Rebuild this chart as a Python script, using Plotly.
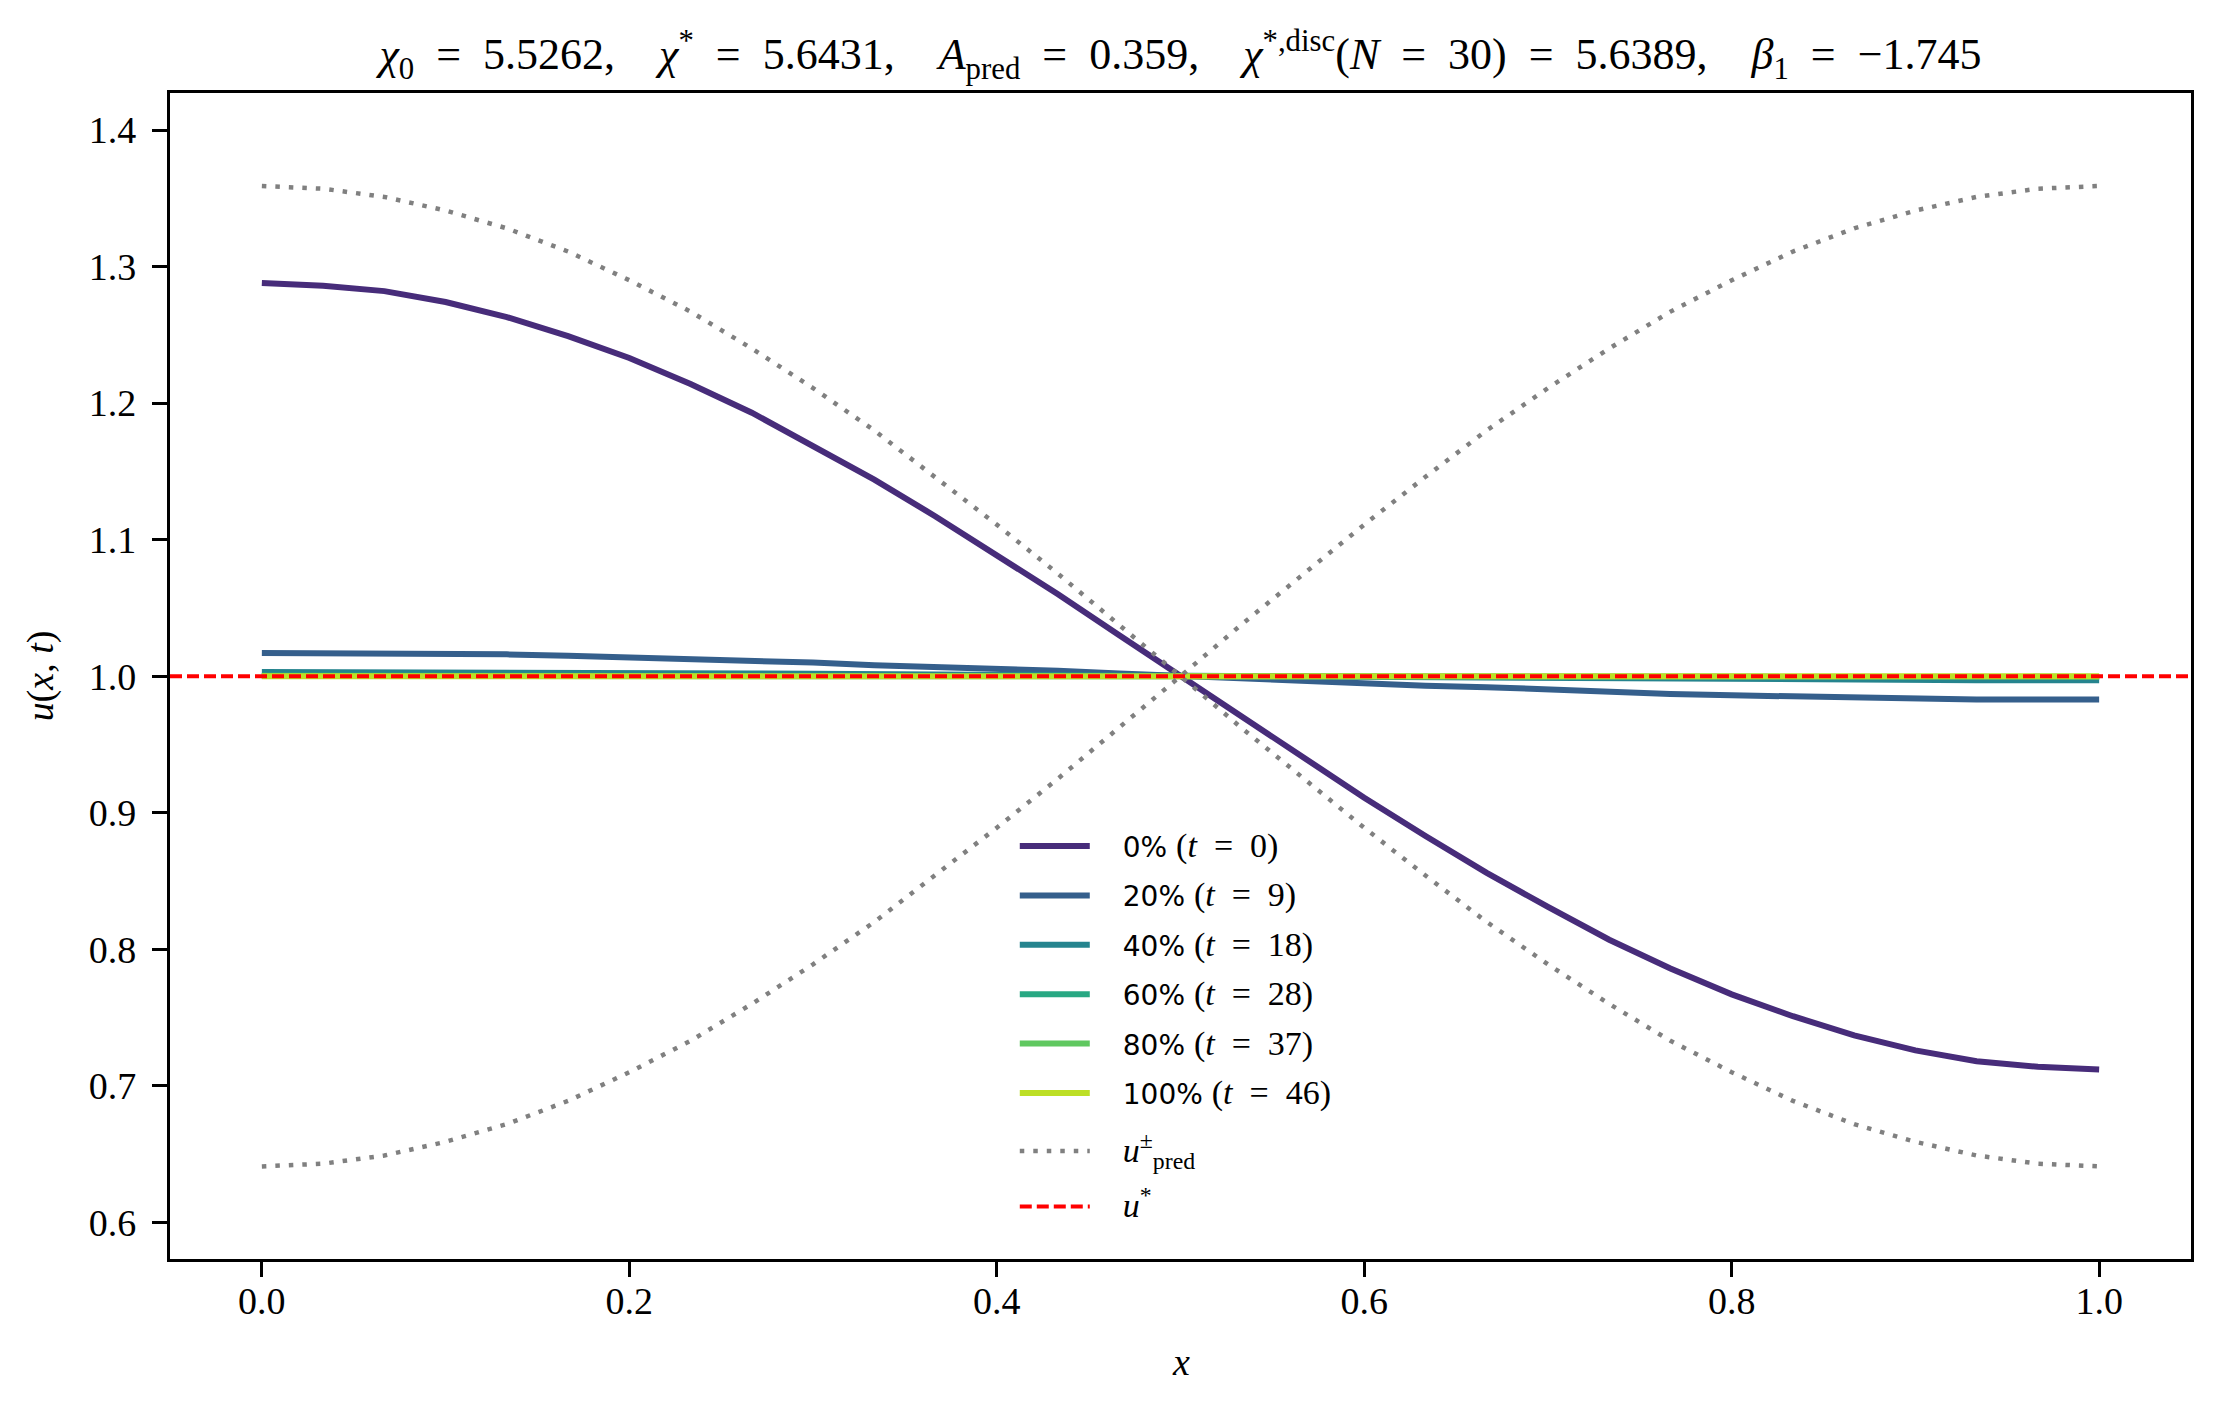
import plotly.graph_objects as go

# Grid: N = 30 intervals on [0, 1]
x = [i / 30 for i in range(31)]

# Snapshots of u(x, t)
u_t0 = [1.288, 1.286, 1.282, 1.274, 1.263, 1.249, 1.233, 1.214, 1.193, 1.169, 1.144,
        1.117, 1.089, 1.060, 1.030, 1.000, 0.970, 0.940, 0.911, 0.883, 0.856,
        0.831, 0.807, 0.786, 0.767, 0.751, 0.737, 0.726, 0.718, 0.714, 0.712]
u_t9 = [1.017, 1.017, 1.017, 1.016, 1.016, 1.015, 1.014, 1.013, 1.011, 1.010, 1.008,
        1.007, 1.005, 1.004, 1.002, 1.000, 0.998, 0.996, 0.995, 0.993, 0.992,
        0.990, 0.989, 0.987, 0.986, 0.985, 0.984, 0.984, 0.983, 0.983, 0.983]
u_t18 = [1.0030, 1.0030, 1.0029, 1.0029, 1.0027, 1.0026, 1.0024, 1.0022, 1.0020, 1.0018, 1.0015,
         1.0012, 1.0009, 1.0006, 1.0003, 1.0000, 0.9997, 0.9994, 0.9991, 0.9988, 0.9985,
         0.9982, 0.9980, 0.9978, 0.9976, 0.9974, 0.9973, 0.9971, 0.9971, 0.9970, 0.9970]
u_t28 = [1.0005, 1.0005, 1.0005, 1.0005, 1.0005, 1.0004, 1.0004, 1.0004, 1.0003, 1.0003, 1.0003,
         1.0002, 1.0002, 1.0001, 1.0001, 1.0000, 0.9999, 0.9999, 0.9998, 0.9998, 0.9997,
         0.9997, 0.9997, 0.9996, 0.9996, 0.9996, 0.9995, 0.9995, 0.9995, 0.9995, 0.9995]
u_t37 = [1.0001, 1.0001, 1.0001, 1.0001, 1.0001, 1.0001, 1.0001, 1.0001, 1.0001, 1.0001, 1.0000,
         1.0000, 1.0000, 1.0000, 1.0000, 1.0000, 1.0000, 1.0000, 1.0000, 1.0000, 1.0000,
         0.9999, 0.9999, 0.9999, 0.9999, 0.9999, 0.9999, 0.9999, 0.9999, 0.9999, 0.9999]
u_t46 = [1.0000, 1.0000, 1.0000, 1.0000, 1.0000, 1.0000, 1.0000, 1.0000, 1.0000, 1.0000, 1.0000,
         1.0000, 1.0000, 1.0000, 1.0000, 1.0000, 1.0000, 1.0000, 1.0000, 1.0000, 1.0000,
         1.0000, 1.0000, 1.0000, 1.0000, 1.0000, 1.0000, 1.0000, 1.0000, 1.0000, 1.0000]

# Predicted envelopes u_pred^+ / u_pred^-
u_pred_plus = [1.359, 1.357, 1.351, 1.341, 1.328, 1.311, 1.290, 1.267, 1.240, 1.211, 1.180,
               1.146, 1.111, 1.075, 1.038, 1.000, 0.962, 0.925, 0.889, 0.854, 0.820,
               0.789, 0.760, 0.733, 0.710, 0.689, 0.672, 0.659, 0.649, 0.643, 0.641]
u_pred_minus = [0.641, 0.643, 0.649, 0.659, 0.672, 0.689, 0.710, 0.733, 0.760, 0.789, 0.820,
                0.854, 0.889, 0.925, 0.962, 1.000, 1.038, 1.075, 1.111, 1.146, 1.180,
                1.211, 1.240, 1.267, 1.290, 1.311, 1.328, 1.341, 1.351, 1.357, 1.359]
u_star = 1.0

snapshots = [u_t0, u_t9, u_t18, u_t28, u_t37, u_t46]
percents = ["0%", "20%", "40%", "60%", "80%", "100%"]
times = [0, 9, 18, 28, 37, 46]
colors = ["#472c7a", "#355f8c", "#25848e", "#28a883", "#60c860", "#bddf26"]

x_ticks = [0.0, 0.2, 0.4, 0.6, 0.8, 1.0]
y_ticks = [0.6, 0.7, 0.8, 0.9, 1.0, 1.1, 1.2, 1.3, 1.4]

SERIF = "Liberation Serif"
SANS = "DejaVu Sans"
EQ = "\u2002=\u2002"      # wide spacing around '=' like TeX
SEP = ",\u2002\u2002"     # TeX-style gap after commas
GAP = "\u2003"            # gap between legend line and label


def math(s, size=34):
    return f'<span style="font-family:{SERIF};font-size:{size}px">{s}</span>'


fig = go.Figure()

for i, (u, p, t, c) in enumerate(zip(snapshots, percents, times, colors)):
    fig.add_trace(go.Scatter(
        x=x, y=u, mode="lines",
        line=dict(color=c, width=6),
        name=f"{GAP}{p} " + math(f"(<i>t</i>{EQ}{t})"),
        legendgroup=f"g{i}",
    ))

fig.add_trace(go.Scatter(
    x=x, y=u_pred_plus, mode="lines",
    line=dict(color="#808080", width=4.5, dash="4.5px,9px"),
    name=GAP + math("<i>u</i><sup>±</sup><sub>pred</sub>"),
    legendgroup="pred", legend="legend2",
))
fig.add_trace(go.Scatter(
    x=x, y=u_pred_minus, mode="lines",
    line=dict(color="#808080", width=4.5, dash="4.5px,9px"),
    showlegend=False, legendgroup="pred", legend="legend2",
))

# u* reference line across the whole axes
fig.add_hline(y=u_star, line=dict(color="red", width=4, dash="12px,5px"))
fig.add_trace(go.Scatter(
    x=[None], y=[None], mode="lines",
    line=dict(color="red", width=4, dash="12px,5px"),
    name=GAP + math("<i>u</i><sup>*</sup>"),
    legendgroup="star", legend="legend2",
))

title = (f"<i>χ</i><sub>0</sub>{EQ}5.5262{SEP}<i>χ</i><sup>*</sup>{EQ}5.6431{SEP}"
         f"<i>A</i><sub>pred</sub>{EQ}0.359{SEP}<i>χ</i><sup>*,disc</sup>(<i>N</i>{EQ}30){EQ}5.6389{SEP}"
         f"<i>β</i><sub>1</sub>{EQ}−1.745")

axis_common = dict(
    showline=True, linecolor="black", linewidth=3.3, mirror=True,
    ticks="outside", ticklen=15, tickwidth=3.3, tickcolor="black",
    showgrid=False, zeroline=False, tickformat=".1f",
    tickfont=dict(family=SERIF, size=38, color="black"),
)

legend_common = dict(
    x=0.418, xanchor="left", yanchor="top", itemwidth=70,
    bgcolor="rgba(255,255,255,0)",
    font=dict(family=SANS, size=28, color="black"),
    traceorder="grouped",
)

fig.update_layout(
    width=2220, height=1409,
    margin=dict(l=162, r=37, t=85, b=158),
    plot_bgcolor="white", paper_bgcolor="white",
    title=dict(text=title, x=0.5, xref="paper", y=1 - 46 / 1409, yanchor="middle",
               font=dict(family=SERIF, size=44, color="black")),
    xaxis=dict(range=[-0.05, 1.05], tickvals=x_ticks, ticklabelstandoff=-9,
               **axis_common),
    yaxis=dict(range=[0.5732, 1.4271], tickvals=y_ticks, ticklabelstandoff=8,
               title=dict(text="<i>u</i>(<i>x</i>, <i>t</i>)",
                          font=dict(family=SERIF, size=38, color="black"), standoff=24),
               **axis_common),
    legend=dict(y=0.3754, tracegroupgap=10, **legend_common),
    legend2=dict(y=0.1138, tracegroupgap=16, **legend_common),
    annotations=[dict(text="<i>x</i>", xref="paper", yref="paper", x=0.5,
                      y=-(1354 - 1251) / 1166, yanchor="middle", showarrow=False,
                      font=dict(family=SERIF, size=38, color="black"))],
)

fig.write_html("out.html")
